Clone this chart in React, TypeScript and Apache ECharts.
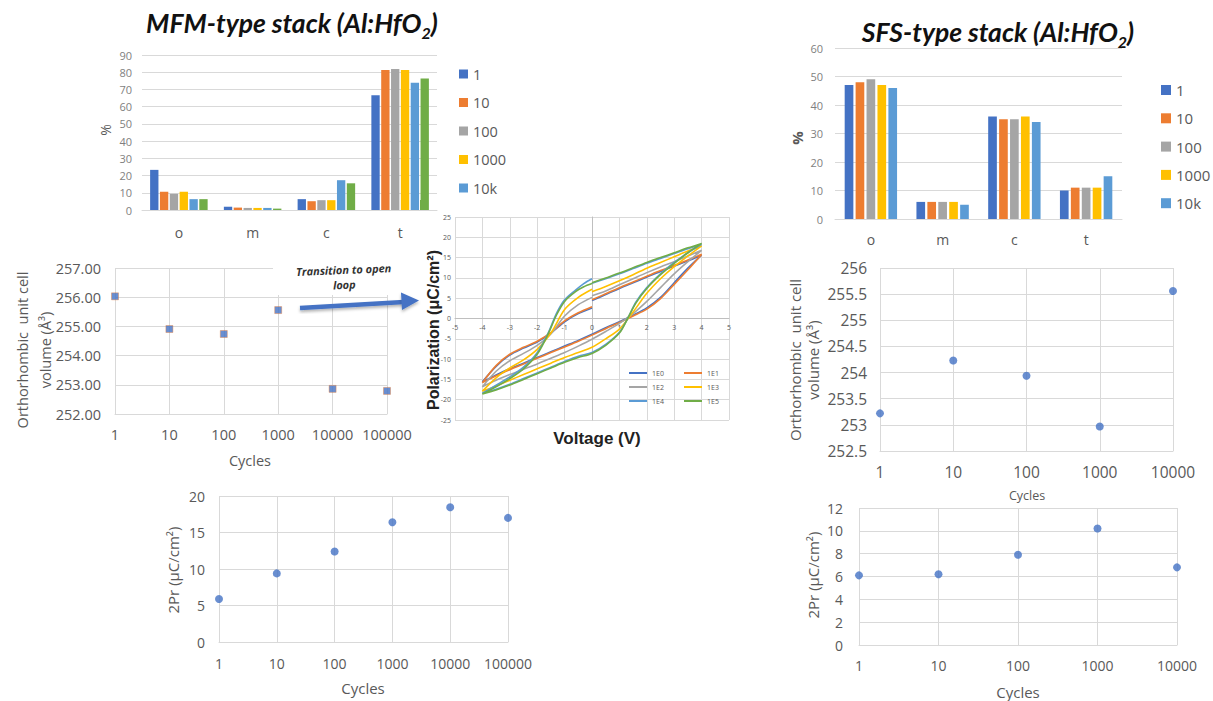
import React, { useEffect, useRef } from 'react';
import * as echarts from 'echarts';

// ---------- data ----------
const barCategories = ['o', 'm', 'c', 't'];
const mfmSeriesNames = ['1', '10', '100', '1000', '10k', '100k'];
const mfmBar1 = [23.3, 1.9, 6.3, 66.7];
const mfmBar10 = [10.6, 1.4, 5.1, 81.3];
const mfmBar100 = [9.4, 1.2, 5.7, 81.9];
const mfmBar1000 = [10.6, 1.2, 5.7, 81.3];
const mfmBar10k = [6.3, 1.2, 17.3, 73.9];
const mfmBar100k = [6.3, 0.8, 15.5, 76.3];

const sfsSeriesNames = ['1', '10', '100', '1000', '10k'];
const sfsBar1 = [47, 6, 36, 10];
const sfsBar10 = [48, 6, 35, 11];
const sfsBar100 = [49, 6, 35, 11];
const sfsBar1000 = [47, 6, 36, 11];
const sfsBar10k = [46, 5, 34, 15];

const mfmCycles = [1, 10, 100, 1000, 10000, 100000];
const mfmVolume = [256.03, 254.91, 254.74, 255.56, 252.86, 252.79];
const mfm2Pr = [5.9, 9.4, 12.4, 16.4, 18.45, 17.0];

const sfsCycles = [1, 10, 100, 1000, 10000];
const sfsVolume = [253.22, 254.23, 253.94, 252.97, 255.56];
const sfs2Pr = [6.1, 6.2, 7.9, 10.2, 6.8];

const loopNames = ['1E0', '1E1', '1E2', '1E3', '1E4', '1E5'];
const loop1E0 = [
  [0, 2.6], [-0.5, 1.2], [-1, -0.8], [-1.5, -3.6], [-2, -5.8], [-2.5, -7.3], [-3, -9], [-3.5, -11.8], [-4, -15.6],
  [-3.5, -13.9], [-3, -12.4], [-2.5, -11], [-2, -9.6], [-1.5, -8.2], [-1, -6.8], [-0.5, -5.4], [0, -3.9], [0.5, -2.3],
  [1, -0.8], [1.5, 0.8], [2, 2.6], [2.5, 5.2], [3, 8.8], [3.5, 12.4], [4, 15.6],
  [3.5, 14.2], [3, 12.9], [2.5, 11.6], [2, 10.2], [1.5, 8.8], [1, 7.4], [0.5, 5.9], [0, 4.4],
];
const loop1E1 = [
  [0, 2.9], [-0.5, 1.4], [-1, -0.6], [-1.5, -3.5], [-2, -5.6], [-2.5, -7.1], [-3, -8.8], [-3.5, -11.6], [-4, -15.8],
  [-3.5, -14.1], [-3, -12.6], [-2.5, -11.2], [-2, -9.8], [-1.5, -8.4], [-1, -7], [-0.5, -5.6], [0, -4.1], [0.5, -2.5],
  [1, -1], [1.5, 0.6], [2, 2.3], [2.5, 4.9], [3, 8.4], [3.5, 12], [4, 15.8],
  [3.5, 14.4], [3, 13.1], [2.5, 11.8], [2, 10.4], [1.5, 9], [1, 7.6], [0.5, 6.1], [0, 4.6],
];
const loop1E2 = [
  [0, 5.2], [-0.5, 3.4], [-1, 0.6], [-1.5, -3.8], [-2, -6.6], [-2.5, -8.6], [-3, -10.4], [-3.5, -13], [-4, -16.8],
  [-3.5, -15.2], [-3, -13.8], [-2.5, -12.5], [-2, -11.2], [-1.5, -9.8], [-1, -8.4], [-0.5, -6.8], [0, -5.1], [0.5, -3.2],
  [1, -1.2], [1.5, 1.2], [2, 4.2], [2.5, 7.6], [3, 11], [3.5, 14], [4, 16.8],
  [3.5, 15.4], [3, 14], [2.5, 12.7], [2, 11.3], [1.5, 9.8], [1, 8.3], [0.5, 6.8], [0, 5.6],
];
const loop1E3 = [
  [0, 7.2], [-0.5, 5.2], [-1, 2.2], [-1.5, -3.6], [-2, -7.6], [-2.5, -10.2], [-3, -12.2], [-3.5, -14.6], [-4, -17.9],
  [-3.5, -16.6], [-3, -15.2], [-2.5, -13.8], [-2, -12.4], [-1.5, -11], [-1, -9.6], [-0.5, -8.4], [0, -7.1], [0.5, -5],
  [1, -2.6], [1.5, 1.6], [2, 6.2], [2.5, 9.8], [3, 12.8], [3.5, 15.4], [4, 17.9],
  [3.5, 16.6], [3, 15.2], [2.5, 13.8], [2, 12.4], [1.5, 10.8], [1, 9.3], [0.5, 7.9], [0, 6.6],
];
const loop1E4 = [
  [0, 9.8], [-0.3, 8.6], [-0.6, 7], [-1, 4.6], [-1.3, 1.2], [-1.6, -3.6], [-2, -8.4], [-2.5, -12], [-3, -14.4], [-3.5, -16.4], [-4, -18.4],
  [-3.5, -17.4], [-3, -16.2], [-2.5, -14.8], [-2, -13.4], [-1.5, -12], [-1, -10.6], [-0.5, -9.3], [0, -8.4], [0.5, -6.4],
  [1, -3.4], [1.3, 0], [1.6, 4], [2, 7.6], [2.5, 11], [3, 13.8], [3.5, 16.2], [4, 18.3],
  [3.5, 17.2], [3, 16], [2.5, 14.8], [2, 13.6], [1.5, 12.3], [1, 11], [0.5, 9.8], [0, 8.7],
];
const loop1E5 = [
  [0, 8.6], [-0.3, 7.8], [-0.6, 6.6], [-1, 4.2], [-1.3, 0.8], [-1.6, -3.8], [-2, -8.8], [-2.5, -12.4], [-3, -14.8], [-3.5, -16.8], [-4, -18.6],
  [-3.5, -17.6], [-3, -16.4], [-2.5, -15], [-2, -13.6], [-1.5, -12.2], [-1, -10.8], [-0.5, -9.6], [0, -8.6], [0.5, -6.6],
  [1, -3.6], [1.3, 0], [1.6, 3.8], [2, 7.4], [2.5, 10.8], [3, 13.6], [3.5, 16.2], [4, 18.5],
  [3.5, 17.4], [3, 16.2], [2.5, 15], [2, 13.8], [1.5, 12.5], [1, 11.2], [0.5, 10], [0, 8.8],
];

const excelColors = ['#4472C4', '#ED7D31', '#A5A5A5', '#FFC000', '#5B9BD5', '#70AD47'];

// ---------- styling helpers ----------
const TXT = '#595959';
const GRID = '#D9D9D9';
const FONT = 'Open Sans';

function logX(gridIndex: number, max: number, fontSize: number, margin: number) {
  return {
    type: 'log', gridIndex, logBase: 10, min: 1, max,
    axisLine: { show: true, lineStyle: { color: GRID } },
    axisTick: { show: false },
    splitLine: { show: true, lineStyle: { color: GRID } },
    axisLabel: { color: TXT, fontSize, margin, fontFamily: FONT, formatter: (v: number) => String(Math.round(v)) },
  };
}
function valY(gridIndex: number, min: number, max: number, interval: number, fontSize: number, margin: number, color = TXT, fmt?: any) {
  return {
    type: 'value', gridIndex, min, max, interval,
    axisLine: { show: false }, axisTick: { show: false },
    splitLine: { show: true, lineStyle: { color: GRID } },
    axisLabel: { color, fontSize, margin, fontFamily: FONT, formatter: fmt },
  };
}
function catX(gridIndex: number, fontSize: number, margin: number) {
  return {
    type: 'category', gridIndex, data: barCategories,
    axisLine: { show: true, lineStyle: { color: GRID } }, axisTick: { show: false },
    axisLabel: { color: TXT, fontSize, margin, fontFamily: FONT },
  };
}
function gridBox(left: number, top: number, width: number, height: number) {
  return { left, top, width, height, containLabel: false, outerBoundsMode: 'none' };
}
function txt(x: number, y: number, text: string, fontSize: number, extra: any = {}, rotation = 0) {
  return {
    type: 'text', x, y, rotation, z: 10,
    style: { text, fontSize, fontFamily: FONT, fill: TXT, align: 'center', verticalAlign: 'middle', ...extra },
  };
}
function title(x: number, y: number, main: string) {
  const base = { fontWeight: 'bold', fontStyle: 'italic', fontFamily: 'Lato', fill: '#111' };
  return {
    type: 'text', x, y, z: 10,
    style: {
      text: `{a|${main}}{s|2}{a|)}`, align: 'center', verticalAlign: 'middle',
      rich: {
        a: { ...base, fontSize: 26.5, lineHeight: 34 },
        s: { ...base, fontSize: 16, lineHeight: 16, verticalAlign: 'bottom' },
      },
    },
  };
}

export default function App() {
  const ref = useRef<HTMLDivElement>(null);
  useEffect(() => {
    const chart = echarts.init(ref.current!, undefined, { renderer: 'svg' });

    const mfmBars = [mfmBar1, mfmBar10, mfmBar100, mfmBar1000, mfmBar10k, mfmBar100k];
    const sfsBars = [sfsBar1, sfsBar10, sfsBar100, sfsBar1000, sfsBar10k];
    const loops = [loop1E0, loop1E1, loop1E2, loop1E3, loop1E4, loop1E5];

    const series: any[] = [];
    mfmBars.forEach((d, i) => series.push({
      type: 'bar', name: mfmSeriesNames[i], xAxisIndex: 0, yAxisIndex: 0, data: d,
      itemStyle: { color: excelColors[i] }, barGap: '18%', barCategoryGap: '22%',
    }));
    sfsBars.forEach((d, i) => series.push({
      type: 'bar', name: sfsSeriesNames[i], xAxisIndex: 4, yAxisIndex: 4, data: d,
      itemStyle: { color: excelColors[i] }, barGap: '26%', barCategoryGap: '27%',
    }));
    loops.forEach((d, i) => series.push({
      type: 'line', name: loopNames[i], xAxisIndex: 2, yAxisIndex: 2, data: d,
      symbol: 'none', smooth: 0.3, lineStyle: { color: excelColors[i], width: 1.6 }, itemStyle: { color: excelColors[i] },
    }));
    const scat = (name: string, xi: number, xs: number[], ys: number[], symbol: string, size: number, extra: any = {}) => ({
      type: 'scatter', name, xAxisIndex: xi, yAxisIndex: xi, symbol, symbolSize: size,
      data: xs.map((x, i) => [x, ys[i]]), itemStyle: { color: '#4472C4', ...extra },
    });
    series.push(scat('MFM volume', 1, mfmCycles, mfmVolume, 'rect', 7, { borderColor: '#ED7D31', borderWidth: 0.5 }));
    series.push(scat('MFM 2Pr', 3, mfmCycles, mfm2Pr, 'circle', 8));
    series.push(scat('SFS volume', 5, sfsCycles, sfsVolume, 'circle', 8));
    series.push(scat('SFS 2Pr', 6, sfsCycles, sfs2Pr, 'circle', 8));

    const legendBase = { orient: 'vertical', icon: 'rect', padding: 0, selectedMode: false };

    const option: any = {
      animation: false,
      backgroundColor: '#fff',
      textStyle: { fontFamily: FONT },
      grid: [
        gridBox(142, 55, 295, 155),   // 0 MFM bars
        gridBox(115, 268, 272, 146),  // 1 MFM volume
        gridBox(455, 217, 274, 203),  // 2 hysteresis
        gridBox(219, 496, 289, 146),  // 3 MFM 2Pr
        gridBox(835, 48, 287, 171),   // 4 SFS bars
        gridBox(880, 268, 293, 183),  // 5 SFS volume
        gridBox(859, 508, 318, 137),  // 6 SFS 2Pr
      ],
      xAxis: [
        catX(0, 14, 15),
        logX(1, 100000, 14.5, 13),
        {
          type: 'value', gridIndex: 2, min: -5, max: 5, interval: 1, position: 'bottom', offset: -101.5,
          axisLine: { show: true, onZero: false, lineStyle: { color: '#BFBFBF' } }, axisTick: { show: false },
          splitLine: { show: true, lineStyle: { color: GRID } },
          axisLabel: { color: TXT, fontSize: 7, margin: 5, showMinLabel: true, showMaxLabel: true },
        },
        logX(3, 100000, 14, 14),
        catX(4, 14, 13),
        logX(5, 10000, 15.5, 13),
        logX(6, 10000, 14, 13),
      ],
      yAxis: [
        valY(0, 0, 90, 10, 11, 10, '#7F7F7F'),
        valY(1, 252, 257, 1, 14.5, 14, TXT, (v: number) => v.toFixed(2)),
        {
          type: 'value', gridIndex: 2, min: -25, max: 25, interval: 5,
          axisLine: { show: true, onZero: true, lineStyle: { color: '#BFBFBF' } }, axisTick: { show: false },
          splitLine: { show: true, lineStyle: { color: GRID } },
          axisLabel: { color: TXT, fontSize: 7, margin: 4 },
        },
        valY(3, 0, 20, 5, 14, 14),
        valY(4, 0, 60, 10, 11, 12, '#7F7F7F'),
        valY(5, 252.5, 256, 0.5, 15.5, 13),
        valY(6, 0, 12, 2, 14, 16),
      ],
      legend: [
        { ...legendBase, data: mfmSeriesNames.slice(0, 5), left: 459, top: 66, itemWidth: 9, itemHeight: 9, itemGap: 12.5,
          textStyle: { color: TXT, fontSize: 14.5, lineHeight: 16, fontFamily: FONT } },
        { ...legendBase, data: sfsSeriesNames, left: 1161, top: 82, itemWidth: 10, itemHeight: 10, itemGap: 12.3,
          textStyle: { color: TXT, fontSize: 15, lineHeight: 16, fontFamily: FONT } },
        { ...legendBase, data: [loopNames[0], loopNames[2], loopNames[4]], left: 629, top: 369, itemWidth: 18, itemHeight: 2, itemGap: 6,
          textStyle: { color: TXT, fontSize: 7, lineHeight: 8, fontFamily: FONT } },
        { ...legendBase, data: [loopNames[1], loopNames[3], loopNames[5]], left: 684, top: 369, itemWidth: 18, itemHeight: 2, itemGap: 6,
          textStyle: { color: TXT, fontSize: 7, lineHeight: 8, fontFamily: FONT } },
      ],
      graphic: {
        elements: [
          // white box behind annotation
          { type: 'rect', shape: { x: 273, y: 255, width: 119, height: 40 }, style: { fill: '#fff' }, z: 1 },
          // leftover legend swatch
          { type: 'rect', shape: { x: 420, y: 200, width: 7, height: 10 }, style: { fill: '#70AD47' }, z: 1 },
          // titles
          title(292, 23, 'MFM-type stack (Al:HfO'),
          title(998, 32, 'SFS-type stack (Al:HfO'),
          // axis names
          txt(105, 130, '%', 14, {}, Math.PI / 2),
          txt(797, 138, '%', 15, { fontWeight: 'bold' }, Math.PI / 2),
          txt(33.5, 350, 'Orthorhombic  unit cell\nvolume (Å³)', 14.5, { lineHeight: 23 }, Math.PI / 2),
          txt(250, 460, 'Cycles', 14.5),
          txt(173, 570, '2Pr (µC/cm²)', 15, {}, Math.PI / 2),
          txt(363, 688, 'Cycles', 15),
          txt(804, 360, 'Orthorhombic  unit cell\nvolume (Å³)', 15, { lineHeight: 18.5 }, Math.PI / 2),
          txt(1027, 495, 'Cycles', 12.5),
          txt(813, 575, '2Pr (µC/cm²)', 15, {}, Math.PI / 2),
          txt(1018, 692, 'Cycles', 15),
          txt(597, 438, 'Voltage (V)', 17, { fontFamily: 'Liberation Sans', fontWeight: 'bold', fill: '#222' }),
          txt(433, 330, 'Polarization (μC/cm²)', 16, { fontFamily: 'Liberation Sans', fontWeight: 'bold', fill: '#222' }, Math.PI / 2),
          // annotation
          txt(344, 277, 'Transition to open\nloop', 11, { fontWeight: 'bold', fontStyle: 'italic', fill: '#333', lineHeight: 15 }, 0.04),
          {
            type: 'line', z: 11, shape: { x1: 300, y1: 308, x2: 404, y2: 302 },
            style: { stroke: '#4472C4', lineWidth: 4.5, shadowBlur: 3, shadowColor: 'rgba(0,0,0,0.3)', shadowOffsetY: 2 },
          },
          {
            type: 'polygon', z: 11, shape: { points: [[401, 292.5], [419, 300.5], [402, 310]] },
            style: { fill: '#4472C4', shadowBlur: 3, shadowColor: 'rgba(0,0,0,0.3)', shadowOffsetY: 2 },
          },
        ],
      },
      series,
    };

    chart.setOption(option);
    return () => chart.dispose();
  }, []);
  return (
    <div
      ref={ref}
      style={{ position: 'absolute', left: 0, top: 0, width: 1213, height: 701, background: '#fff' }}
    />
  );
}
